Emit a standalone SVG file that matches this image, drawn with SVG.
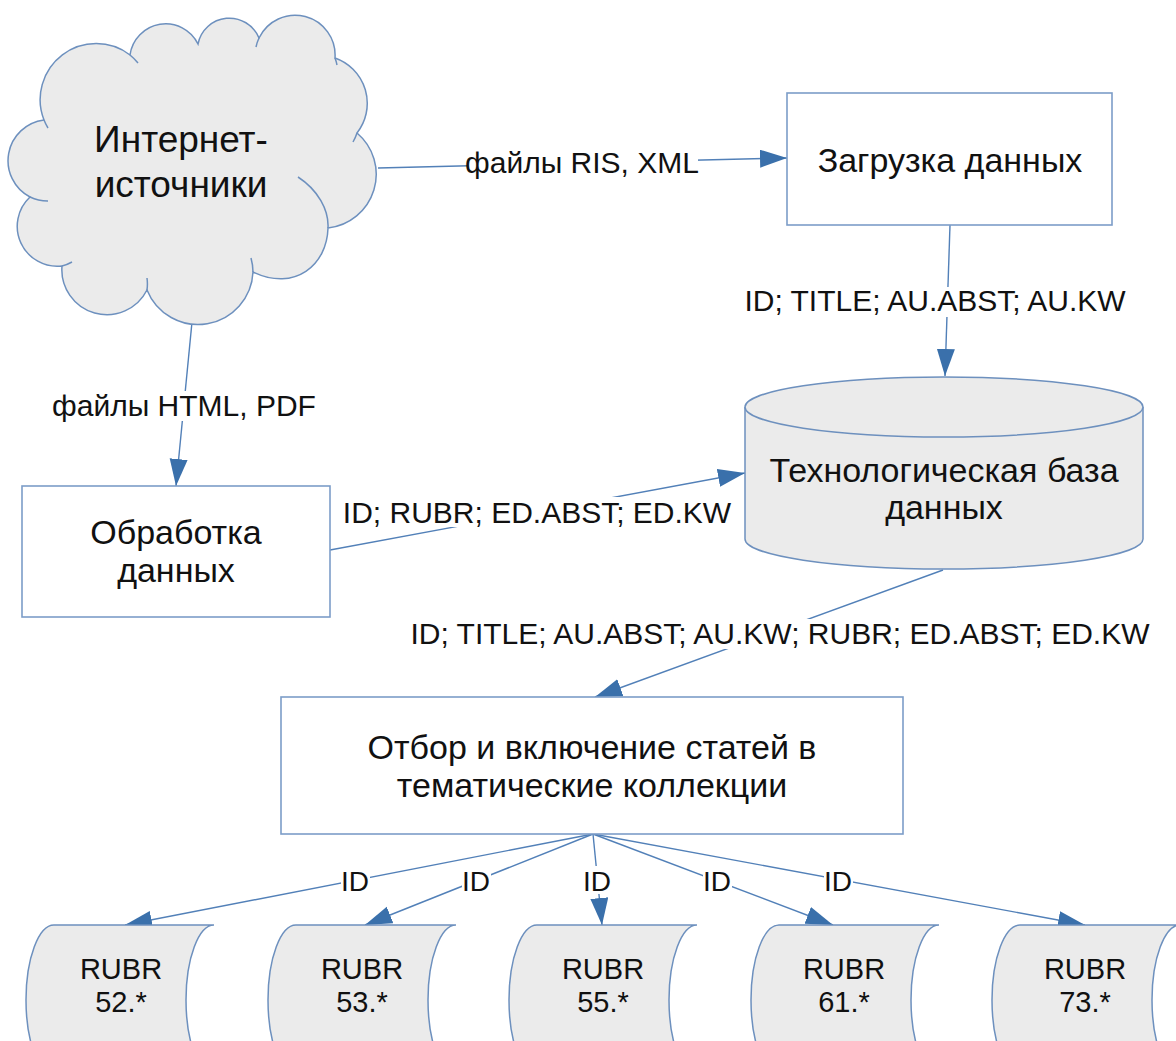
<svg xmlns="http://www.w3.org/2000/svg" width="1176" height="1041" viewBox="0 0 1176 1041">
<style>
.node{fill:#ffffff;stroke:#7c9dc8;stroke-width:1.6}
.gray{fill:#ebebeb;stroke:#6d90be;stroke-width:1.5}
.edge{fill:none;stroke:#5280b8;stroke-width:1.4}
.hook{fill:none;stroke:#6d90be;stroke-width:1.5}
.t{font-family:"Liberation Sans",Arial,sans-serif;fill:#111;text-anchor:middle}
.nt{font-size:34px}
.lt{font-size:30px}
.st{font-size:29px}
.lb{fill:#ffffff;stroke:none}
</style>
<defs>
<marker id="arr" markerUnits="userSpaceOnUse" markerWidth="28" markerHeight="20" refX="27" refY="9" orient="auto">
<path d="M0,0 L27,9 L0,18 Z" fill="#3a70ab"/>
</marker>
</defs>

<g id="connectors">
<line class="edge" x1="378" y1="168" x2="787" y2="158" marker-end="url(#arr)"/>
<line class="edge" x1="950" y1="225" x2="945" y2="376" marker-end="url(#arr)"/>
<line class="edge" x1="192" y1="322" x2="176" y2="486" marker-end="url(#arr)"/>
<line class="edge" x1="330" y1="550" x2="745" y2="473" marker-end="url(#arr)"/>
<line class="edge" x1="943" y1="570" x2="595" y2="697" marker-end="url(#arr)"/>
<line class="edge" x1="593" y1="834" x2="125" y2="925" marker-end="url(#arr)"/>
<line class="edge" x1="593" y1="834" x2="365" y2="925" marker-end="url(#arr)"/>
<line class="edge" x1="593" y1="834" x2="602" y2="925" marker-end="url(#arr)"/>
<line class="edge" x1="593" y1="834" x2="833" y2="925" marker-end="url(#arr)"/>
<line class="edge" x1="593" y1="834" x2="1085" y2="925" marker-end="url(#arr)"/>
<rect class="lb" x="467" y="148" width="231" height="30"/>
<text class="t lt" x="582" y="173">файлы RIS, XML</text>
<rect class="lb" x="742" y="287" width="386" height="30"/>
<text class="t lt" x="935" y="311">ID; TITLE; AU.ABST; AU.KW</text>
<rect class="lb" x="52" y="391" width="265" height="30"/>
<text class="t lt" x="184" y="416">файлы HTML, PDF</text>
<rect class="lb" x="342" y="497" width="390" height="30"/>
<text class="t lt" x="537" y="523">ID; RUBR; ED.ABST; ED.KW</text>
<rect class="lb" x="409" y="619" width="742" height="30"/>
<text class="t lt" x="780" y="644">ID; TITLE; AU.ABST; AU.KW; RUBR; ED.ABST; ED.KW</text>
<rect class="lb" x="341" y="866" width="29" height="28"/>
<text class="t lt" x="355" y="891" style="font-size:28px">ID</text>
<rect class="lb" x="462" y="866" width="29" height="28"/>
<text class="t lt" x="476" y="891" style="font-size:28px">ID</text>
<rect class="lb" x="583" y="866" width="29" height="28"/>
<text class="t lt" x="597" y="891" style="font-size:28px">ID</text>
<rect class="lb" x="703" y="866" width="29" height="28"/>
<text class="t lt" x="717" y="891" style="font-size:28px">ID</text>
<rect class="lb" x="824" y="866" width="29" height="28"/>
<text class="t lt" x="838" y="891" style="font-size:28px">ID</text>
</g>

<g id="internet">
<path class="gray" d="M44,120 A56,56 0 0 1 130,55 A36,36 0 0 1 198,44 A32,32 0 0 1 259,38 A40,40 0 0 1 335,58 A48,48 0 0 1 357,133 A54,54 0 0 1 328,228 C327,265 295,292 253,272 A55,55 0 0 1 147,290 A45,45 0 0 1 62,266 A40,40 0 0 1 30,197 A41,41 0 0 1 44,120 Z"/>
<path class="hook" d="M130,55 A56,56 0 0 1 138,63 M259,38 A40,40 0 0 0 256,47 M335,58 A40,40 0 0 1 337,65 M357,133 A48,48 0 0 1 353,142 M298,177 C318,190 329,210 328,228 M253,272 A55,55 0 0 0 251,258 M147,290 A45,45 0 0 0 147,278 M62,266 A40,40 0 0 0 72,262 M30,197 A41,41 0 0 0 48,201 M44,120 A56,56 0 0 0 48,128"/>
<text class="t" x="181" y="152" style="font-size:37px">Интернет-</text>
<text class="t" x="181" y="197" style="font-size:37px">источники</text>
</g>

<g id="load">
<rect class="node" x="787" y="93" width="325" height="132"/>
<text class="t nt" x="950" y="172">Загрузка данных</text>
</g>

<g id="process">
<rect class="node" x="22" y="486" width="308" height="131"/>
<text class="t nt" x="176" y="544">Обработка</text>
<text class="t nt" x="176" y="582">данных</text>
</g>

<g id="db">
<path class="gray" d="M745,407 L745,539 A199,30 0 0 0 1143,539 L1143,407"/>
<ellipse class="gray" cx="944" cy="407" rx="199" ry="30"/>
<text class="t nt" x="944" y="482">Технологическая база</text>
<text class="t nt" x="944" y="519">данных</text>
</g>

<g id="select">
<rect class="node" x="281" y="697" width="622" height="137"/>
<text class="t nt" x="592" y="759">Отбор и включение статей в</text>
<text class="t nt" x="592" y="797">тематические коллекции</text>
</g>

<g id="rubr52">
<path class="gray" d="M54,925 L214,925 A28,75 0 0 0 214,1075 L54,1075 A28,75 0 0 1 54,925 Z"/>
<text class="t st" x="121" y="979">RUBR</text>
<text class="t st" x="121" y="1012">52.*</text>
</g>
<g id="rubr53">
<path class="gray" d="M296,925 L456,925 A28,75 0 0 0 456,1075 L296,1075 A28,75 0 0 1 296,925 Z"/>
<text class="t st" x="362" y="979">RUBR</text>
<text class="t st" x="362" y="1012">53.*</text>
</g>
<g id="rubr55">
<path class="gray" d="M537,925 L697,925 A28,75 0 0 0 697,1075 L537,1075 A28,75 0 0 1 537,925 Z"/>
<text class="t st" x="603" y="979">RUBR</text>
<text class="t st" x="603" y="1012">55.*</text>
</g>
<g id="rubr61">
<path class="gray" d="M779,925 L939,925 A28,75 0 0 0 939,1075 L779,1075 A28,75 0 0 1 779,925 Z"/>
<text class="t st" x="844" y="979">RUBR</text>
<text class="t st" x="844" y="1012">61.*</text>
</g>
<g id="rubr73">
<path class="gray" d="M1020,925 L1180,925 A28,75 0 0 0 1180,1075 L1020,1075 A28,75 0 0 1 1020,925 Z"/>
<text class="t st" x="1085" y="979">RUBR</text>
<text class="t st" x="1085" y="1012">73.*</text>
</g>
</svg>
